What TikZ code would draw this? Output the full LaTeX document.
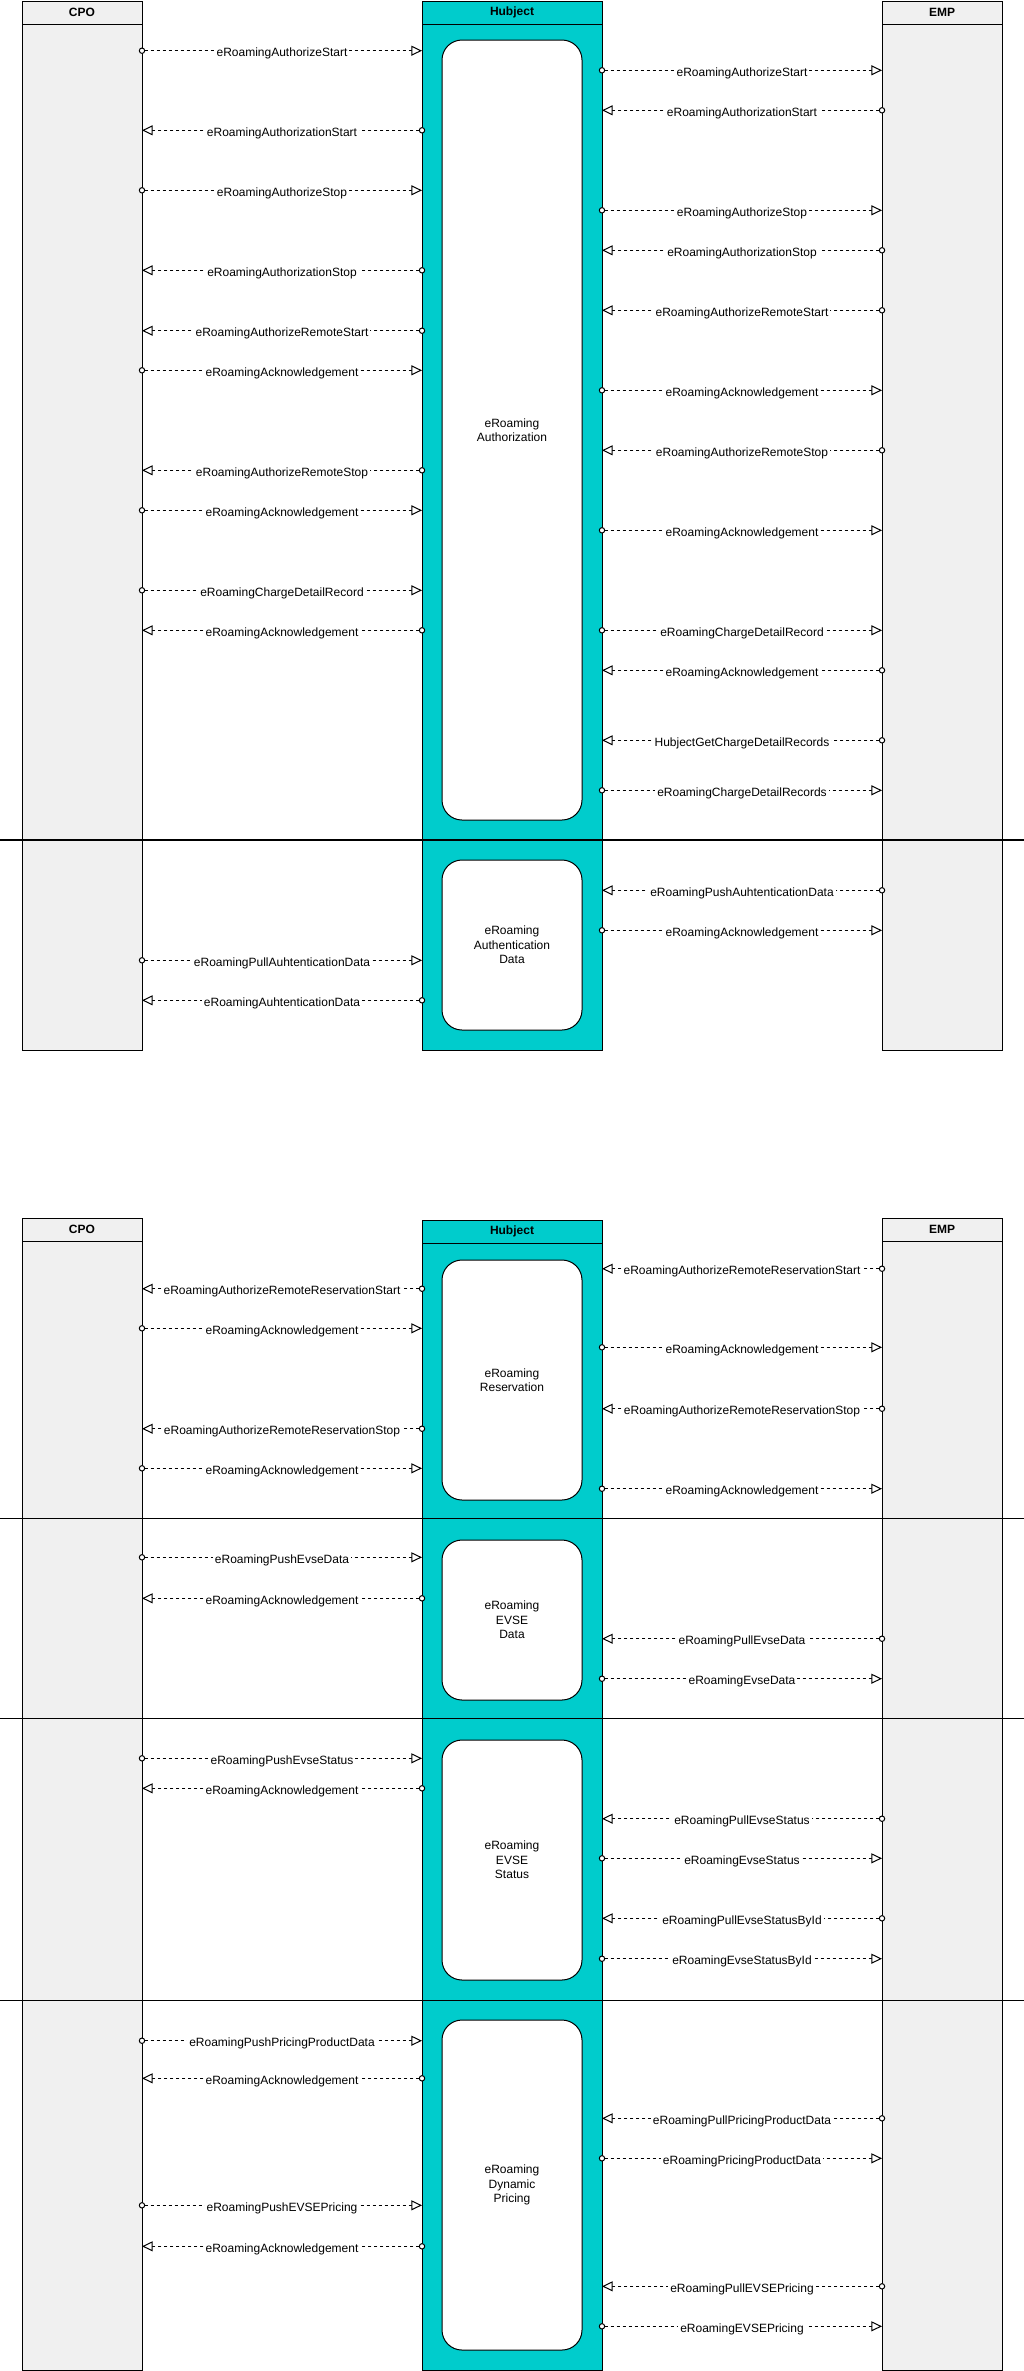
\documentclass[tikz,border=0pt]{standalone}
\usepackage{fontspec}
\setmainfont{Liberation Sans}
\usetikzlibrary{arrows.meta}
\definecolor{lanegray}{HTML}{F0F0F0}
\definecolor{hubteal}{HTML}{00CCCC}
\tikzset{
  lanebody/.style={draw=black, line width=0.75pt, anchor=north west, inner sep=0pt, outer sep=0pt},
  lanehead/.style={draw=black, line width=0.75pt, anchor=north west, inner sep=0pt, outer sep=0pt,
    minimum height=17.25pt, font=\fontsize{9}{10.8}\selectfont\bfseries},
  innerbox/.style={draw=black, fill=white, line width=0.75pt, rounded corners=15pt, anchor=north west,
    inner sep=0pt, outer sep=0pt, minimum width=105pt, align=center, font=\fontsize{9}{10.8}\selectfont},
  msgline/.style={draw=black, line width=0.75pt, dash pattern=on 2.25pt off 2.25pt, shorten <=-2.4pt,
    arrows={Circle[length=4.8pt,width=4.8pt,fill=white]-Triangle[length=8pt,width=7.5pt,fill=white]}},
  msglabel/.style={fill=white, inner xsep=1.5pt, inner ysep=0.5pt, text height=6.75pt, text depth=1.8pt,
    yshift=-2pt, font=\fontsize{9}{10.8}\selectfont},
  sepline/.style={draw=black, line width=0.9pt}
}
\newcommand\lanemsg[4]{\draw[msgline] (#2 |- 0,#1) -- node[msglabel]{#4} (#3 |- 0,#1);}
\begin{document}
\begin{tikzpicture}[x=0.75pt,y=-0.75pt]
\useasboundingbox (0,0) rectangle (1024,2371);
% ---------------- Diagram 1 ----------------
\node[lanebody, fill=lanegray, minimum width=90pt, minimum height=786.75pt] (cpoA) at (22,1) {};
\node[lanehead, fill=lanegray, minimum width=90pt] (cpoAh) at (22,1) {CPO};
\node[lanebody, fill=hubteal, minimum width=135pt, minimum height=786.75pt] (hubA) at (422,1) {};
\node[lanehead, fill=hubteal, minimum width=135pt] (hubAh) at (422,1) {Hubject};
\node[lanebody, fill=lanegray, minimum width=90pt, minimum height=786.75pt] (empA) at (882,1) {};
\node[lanehead, fill=lanegray, minimum width=90pt] (empAh) at (882,1) {EMP};
\node[innerbox, minimum height=585pt] (authz) at (442,40) {eRoaming\\Authorization};
\node[innerbox, minimum height=127.5pt] (authd) at (442,860) {eRoaming\\Authentication\\Data};
\coordinate (sepAl) at (0,840);
\coordinate (sepAr) at (1024,840);
\draw[sepline] (sepAl) -- (sepAr);
% left side
\lanemsg{50.7}{cpoA.east}{hubA.west}{eRoamingAuthorizeStart}
\lanemsg{130.3}{hubA.west}{cpoA.east}{eRoamingAuthorizationStart}
\lanemsg{190.3}{cpoA.east}{hubA.west}{eRoamingAuthorizeStop}
\lanemsg{270.3}{hubA.west}{cpoA.east}{eRoamingAuthorizationStop}
\lanemsg{330.7}{hubA.west}{cpoA.east}{eRoamingAuthorizeRemoteStart}
\lanemsg{370.3}{cpoA.east}{hubA.west}{eRoamingAcknowledgement}
\lanemsg{470.3}{hubA.west}{cpoA.east}{eRoamingAuthorizeRemoteStop}
\lanemsg{510.3}{cpoA.east}{hubA.west}{eRoamingAcknowledgement}
\lanemsg{590.3}{cpoA.east}{hubA.west}{eRoamingChargeDetailRecord}
\lanemsg{630.3}{hubA.west}{cpoA.east}{eRoamingAcknowledgement}
\lanemsg{960.3}{cpoA.east}{hubA.west}{eRoamingPullAuhtenticationData}
\lanemsg{1000.3}{hubA.west}{cpoA.east}{eRoamingAuhtenticationData}
% right side
\lanemsg{70.3}{hubA.east}{empA.west}{eRoamingAuthorizeStart}
\lanemsg{110.3}{empA.west}{hubA.east}{eRoamingAuthorizationStart}
\lanemsg{210.3}{hubA.east}{empA.west}{eRoamingAuthorizeStop}
\lanemsg{250.3}{empA.west}{hubA.east}{eRoamingAuthorizationStop}
\lanemsg{310.3}{empA.west}{hubA.east}{eRoamingAuthorizeRemoteStart}
\lanemsg{390.3}{hubA.east}{empA.west}{eRoamingAcknowledgement}
\lanemsg{450.3}{empA.west}{hubA.east}{eRoamingAuthorizeRemoteStop}
\lanemsg{530.3}{hubA.east}{empA.west}{eRoamingAcknowledgement}
\lanemsg{630.3}{hubA.east}{empA.west}{eRoamingChargeDetailRecord}
\lanemsg{670.3}{empA.west}{hubA.east}{eRoamingAcknowledgement}
\lanemsg{740.3}{empA.west}{hubA.east}{HubjectGetChargeDetailRecords}
\lanemsg{790.3}{hubA.east}{empA.west}{eRoamingChargeDetailRecords}
\lanemsg{890.3}{empA.west}{hubA.east}{eRoamingPushAuhtenticationData}
\lanemsg{930.3}{hubA.east}{empA.west}{eRoamingAcknowledgement}
% ---------------- Diagram 2 ----------------
\node[lanebody, fill=lanegray, minimum width=90pt, minimum height=864pt] (cpoB) at (22,1218) {};
\node[lanehead, fill=lanegray, minimum width=90pt] (cpoBh) at (22,1218) {CPO};
\node[lanebody, fill=hubteal, minimum width=135pt, minimum height=862.5pt] (hubB) at (422,1220) {};
\node[lanehead, fill=hubteal, minimum width=135pt] (hubBh) at (422,1220) {Hubject};
\node[lanebody, fill=lanegray, minimum width=90pt, minimum height=864pt] (empB) at (882,1218) {};
\node[lanehead, fill=lanegray, minimum width=90pt] (empBh) at (882,1218) {EMP};
\node[innerbox, minimum height=180pt] (resv) at (442,1260) {eRoaming\\Reservation};
\node[innerbox, minimum height=120pt] (evsed) at (442,1540) {eRoaming\\EVSE\\Data};
\node[innerbox, minimum height=180pt] (evses) at (442,1740) {eRoaming\\EVSE\\Status};
\node[innerbox, minimum height=247.5pt] (dynp) at (442,2020) {eRoaming\\Dynamic\\Pricing};
\coordinate (sepBl) at (0,1518.3);
\coordinate (sepBr) at (1024,1518.3);
\coordinate (sepCl) at (0,1718.3);
\coordinate (sepCr) at (1024,1718.3);
\coordinate (sepDl) at (0,2000.3);
\coordinate (sepDr) at (1024,2000.3);
\draw[sepline] (sepBl) -- (sepBr);
\draw[sepline] (sepCl) -- (sepCr);
\draw[sepline] (sepDl) -- (sepDr);
% left side
\lanemsg{1288.7}{hubB.west}{cpoB.east}{eRoamingAuthorizeRemoteReservationStart}
\lanemsg{1328.3}{cpoB.east}{hubB.west}{eRoamingAcknowledgement}
\lanemsg{1428.7}{hubB.west}{cpoB.east}{eRoamingAuthorizeRemoteReservationStop}
\lanemsg{1468.3}{cpoB.east}{hubB.west}{eRoamingAcknowledgement}
\lanemsg{1557.3}{cpoB.east}{hubB.west}{eRoamingPushEvseData}
\lanemsg{1598.3}{hubB.west}{cpoB.east}{eRoamingAcknowledgement}
\lanemsg{1758.3}{cpoB.east}{hubB.west}{eRoamingPushEvseStatus}
\lanemsg{1788.3}{hubB.west}{cpoB.east}{eRoamingAcknowledgement}
\lanemsg{2040.7}{cpoB.east}{hubB.west}{eRoamingPushPricingProductData}
\lanemsg{2078.3}{hubB.west}{cpoB.east}{eRoamingAcknowledgement}
\lanemsg{2205.3}{cpoB.east}{hubB.west}{eRoamingPushEVSEPricing}
\lanemsg{2246.3}{hubB.west}{cpoB.east}{eRoamingAcknowledgement}
% right side
\lanemsg{1268.7}{empB.west}{hubB.east}{eRoamingAuthorizeRemoteReservationStart}
\lanemsg{1347.3}{hubB.east}{empB.west}{eRoamingAcknowledgement}
\lanemsg{1408.7}{empB.west}{hubB.east}{eRoamingAuthorizeRemoteReservationStop}
\lanemsg{1488.7}{hubB.east}{empB.west}{eRoamingAcknowledgement}
\lanemsg{1638.7}{empB.west}{hubB.east}{eRoamingPullEvseData}
\lanemsg{1678.7}{hubB.east}{empB.west}{eRoamingEvseData}
\lanemsg{1818.7}{empB.west}{hubB.east}{eRoamingPullEvseStatus}
\lanemsg{1858.3}{hubB.east}{empB.west}{eRoamingEvseStatus}
\lanemsg{1918.3}{empB.west}{hubB.east}{eRoamingPullEvseStatusById}
\lanemsg{1958.7}{hubB.east}{empB.west}{eRoamingEvseStatusById}
\lanemsg{2118.3}{empB.west}{hubB.east}{eRoamingPullPricingProductData}
\lanemsg{2158.3}{hubB.east}{empB.west}{eRoamingPricingProductData}
\lanemsg{2286.3}{empB.west}{hubB.east}{eRoamingPullEVSEPricing}
\lanemsg{2326.3}{hubB.east}{empB.west}{eRoamingEVSEPricing}
\end{tikzpicture}
\end{document}
